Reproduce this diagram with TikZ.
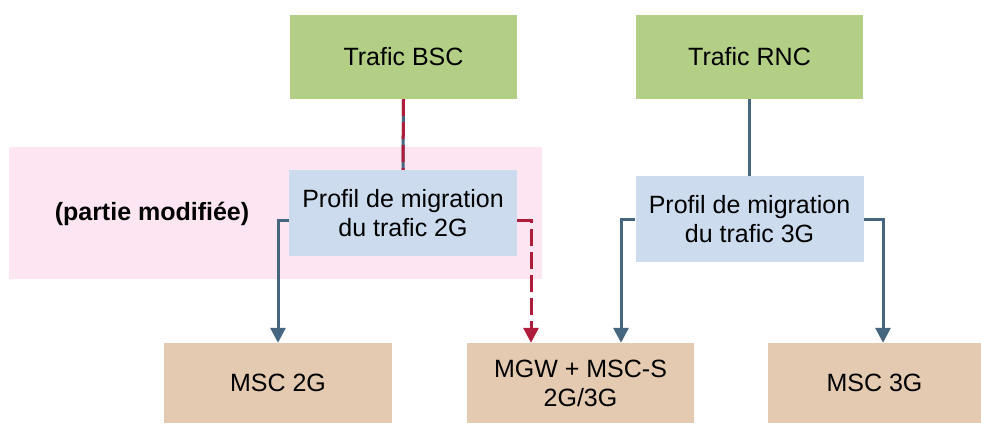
\documentclass[tikz,border=0pt]{standalone}
\usepackage{fontspec}
\setmainfont{Liberation Sans}
\usetikzlibrary{arrows.meta}
\definecolor{greenc}{HTML}{B2CF85}
\definecolor{bluec}{HTML}{CCDCEE}
\definecolor{tanc}{HTML}{E3CAB0}
\definecolor{pinkc}{HTML}{FDE6F1}
\definecolor{linec}{HTML}{46667F}
\definecolor{redc}{HTML}{B01C3C}
\begin{document}
\begin{tikzpicture}[x=1pt,y=-1pt,
  box/.style={inner sep=0pt, align=center, font=\fontsize{25}{29}\selectfont},
  gbox/.style={box, fill=greenc, minimum width=227pt, minimum height=84pt},
  bbox/.style={box, fill=bluec, minimum width=228pt, minimum height=86pt},
  tbox/.style={box, fill=tanc, minimum height=80pt},
  conn/.style={draw=linec, line width=3pt, -{Triangle[length=15pt,width=15pt]}},
  plain/.style={draw=linec, line width=3pt},
  reddash/.style={draw=redc, line width=3pt, dash pattern=on 17pt off 6pt},
  redarrow/.style={draw=redc, line width=3pt, dash pattern=on 17pt off 6pt, -{Triangle[length=15pt,width=15pt]}}]
\useasboundingbox (0,0) rectangle (981,423);
\node[fill=pinkc, inner sep=0pt, minimum width=533pt, minimum height=132pt] (zone) at (275.5,213) {};
\node[gbox] (bsc) at (403.5,57) {Trafic BSC};
\node[gbox] (rnc) at (749.5,57) {Trafic RNC};
\node[bbox] (p2) at (403,213) {Profil de migration\\du trafic 2G};
\node[bbox] (p3) at (749.5,219) {Profil de migration\\du trafic 3G};
\node[box, font=\fontsize{25}{29}\selectfont\bfseries] (lbl) at (152,214) {(partie modifiée)};
\node[tbox, minimum width=228pt] (msc2) at (278,383) {MSC 2G};
\node[tbox, minimum width=227pt] (mgw) at (580.5,383) {MGW + MSC-S\\2G/3G};
\node[tbox, minimum width=213pt] (msc3) at (874.5,383) {MSC 3G};
\coordinate (mgwl) at ([xshift=-49.5pt]mgw.north);
\coordinate (mgwr) at ([xshift=40.5pt]mgw.north);
\coordinate (msc3a) at ([xshift=8.5pt]msc3.north);
% BSC -> profil 2G
\draw[plain] (bsc.south) -- (p2.north);
\draw[reddash] (bsc.south) -- (p2.north);
% RNC -> profil 3G
\draw[plain] (rnc.south) -- (p3.north);
% 2G outputs
\draw[conn] ([yshift=-7pt]p2.west) -| (msc2.north);
\draw[redarrow] ([yshift=-7pt]p2.east) -| (mgwl);
% 3G outputs
\draw[conn] (p3.west) -| (mgwr);
\draw[conn] (p3.east) -| (msc3a);
\end{tikzpicture}
\end{document}
